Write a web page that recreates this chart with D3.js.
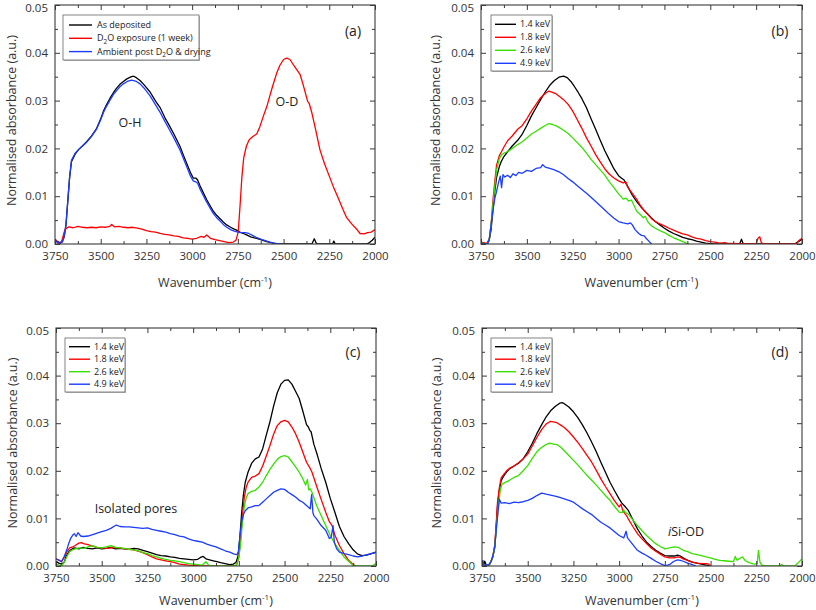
<!DOCTYPE html>
<html><head><meta charset="utf-8">
<script src="https://cdn.jsdelivr.net/npm/d3@7"></script>
<style>
body{margin:0;background:#fff;}
svg{display:block;font-family:"Open Sans","Noto Sans",sans-serif;}
</style></head>
<body><svg id="chart" width="816" height="610"></svg>
<script>
// ---------- tick labels / axes ----------
const xMajorTicks = [3750,3500,3250,3000,2750,2500,2250,2000];
const xMinorTicks = [3625,3375,3125,2875,2625,2375,2125];
const yMajorTicks = [0,0.01,0.02,0.03,0.04,0.05];
const yMinorTicks = [0.005,0.015,0.025,0.035,0.045];
const xLabel = "Wavenumber (cm";
const yLabel = "Normalised absorbance (a.u.)";
const energies = ["1.4 keV","1.8 keV","2.6 keV","4.9 keV"];

// ---------- panel (a) ----------
const a_asDeposited = [[3750,0.0010],[3740,0.0006],[3725,0.0003],[3710,0.0005],[3700,0.0015],[3690,0.004],[3680,0.009],[3670,0.014],[3660,0.0172],[3640,0.0188],[3620,0.0198],[3600,0.0205],[3577,0.0214],[3550,0.0226],[3522,0.0242],[3500,0.0262],[3486,0.0277],[3470,0.0290],[3449,0.0305],[3430,0.0317],[3413,0.0326],[3395,0.0334],[3376,0.0340],[3355,0.0346],[3331,0.0350],[3320,0.0351],[3305,0.0348],[3285,0.0342],[3265,0.0334],[3250,0.0327],[3230,0.0318],[3200,0.0299],[3176,0.0286],[3150,0.0265],[3121,0.0245],[3100,0.0230],[3066,0.0204],[3050,0.0188],[3030,0.0169],[3010,0.0150],[2994,0.0138],[2980,0.0138],[2970,0.0134],[2957,0.0122],[2940,0.0108],[2921,0.0093],[2900,0.0079],[2885,0.0069],[2866,0.0060],[2850,0.0054],[2830,0.0046],[2811,0.0040],[2790,0.0035],[2770,0.0031],[2757,0.0029],[2740,0.0025],[2720,0.0022],[2702,0.0019],[2680,0.0015],[2660,0.0013],[2647,0.0012],[2625,0.0009],[2610,0.0007],[2592,0.0005],[2570,0.0003],[2550,0.0001],[2535,0],[2345,0],[2332,0.0011],[2322,0.0002],[2315,0],[2232,0],[2225,0.0006],[2218,0],[2045,0],[2030,0.0003],[2015,0.0008],[2000,0.0014]];
const a_d2oExposure = [[3750,0.0010],[3735,0.0003],[3720,0.0001],[3710,0.0010],[3700,0.0025],[3690,0.0032],[3675,0.0036],[3650,0.0034],[3625,0.0037],[3600,0.0035],[3575,0.0034],[3550,0.0035],[3525,0.0034],[3500,0.0036],[3475,0.0035],[3450,0.0037],[3440,0.0041],[3425,0.0036],[3400,0.0037],[3375,0.0035],[3350,0.0034],[3325,0.0035],[3300,0.0033],[3275,0.0031],[3250,0.0028],[3225,0.0026],[3200,0.0025],[3175,0.0022],[3150,0.0020],[3125,0.0019],[3100,0.0017],[3075,0.0016],[3050,0.0013],[3025,0.0012],[3000,0.0010],[2975,0.0012],[2950,0.0016],[2935,0.0014],[2920,0.0019],[2900,0.0012],[2875,0.0009],[2850,0.0007],[2825,0.0005],[2800,0.0003],[2775,0.0004],[2760,0.0008],[2748,0.0025],[2738,0.0080],[2728,0.0140],[2718,0.0180],[2703,0.0205],[2688,0.0218],[2668,0.0225],[2647,0.0230],[2630,0.0245],[2610,0.0268],[2592,0.0287],[2575,0.0310],[2560,0.0330],[2538,0.0357],[2520,0.0374],[2500,0.0386],[2483,0.0389],[2465,0.0386],[2445,0.0374],[2425,0.0363],[2410,0.0355],[2395,0.0336],[2380,0.0315],[2368,0.0298],[2360,0.0294],[2354,0.0286],[2345,0.0274],[2325,0.0240],[2301,0.0197],[2275,0.0167],[2250,0.0142],[2228,0.0120],[2200,0.0095],[2175,0.0072],[2155,0.0055],[2125,0.0041],[2100,0.0031],[2082,0.0022],[2060,0.0021],[2040,0.0024],[2020,0.0025],[2000,0.0030]];
const a_ambientDried = [[3750,0.0008],[3740,0.0004],[3725,0.0001],[3710,0.0004],[3700,0.0015],[3690,0.004],[3680,0.009],[3670,0.014],[3660,0.0175],[3640,0.0190],[3620,0.0198],[3600,0.0205],[3577,0.0213],[3550,0.0225],[3522,0.0241],[3500,0.0260],[3486,0.0274],[3470,0.0287],[3449,0.0301],[3430,0.0313],[3413,0.0321],[3395,0.0329],[3376,0.0335],[3355,0.0340],[3331,0.0343],[3320,0.0342],[3305,0.0340],[3285,0.0335],[3265,0.0327],[3250,0.0320],[3230,0.0310],[3200,0.0291],[3176,0.0276],[3150,0.0257],[3121,0.0237],[3100,0.0222],[3066,0.0196],[3050,0.0181],[3030,0.0162],[3010,0.0143],[2994,0.0132],[2980,0.0130],[2970,0.0127],[2957,0.0115],[2940,0.0102],[2921,0.0088],[2900,0.0074],[2885,0.0064],[2866,0.0055],[2850,0.0049],[2830,0.0041],[2811,0.0035],[2790,0.0030],[2770,0.0027],[2750,0.0025],[2730,0.0024],[2710,0.0024],[2690,0.0022],[2670,0.0018],[2650,0.0014],[2625,0.0010],[2600,0.0007],[2575,0.0004],[2550,0.0002],[2525,0]];

// ---------- panel (b) ----------
const b_14keV = [[3750,0.0003],[3730,0.0001],[3715,0],[3705,0.0008],[3695,0.003],[3685,0.007],[3675,0.011],[3665,0.014],[3650,0.0162],[3640,0.0172],[3625,0.0183],[3605,0.0193],[3580,0.0205],[3550,0.0217],[3525,0.0230],[3500,0.0248],[3475,0.0268],[3450,0.0285],[3425,0.0302],[3400,0.0318],[3375,0.0332],[3350,0.0342],[3325,0.0349],[3300,0.0351],[3280,0.0348],[3260,0.0340],[3240,0.0329],[3220,0.0317],[3200,0.0304],[3175,0.0285],[3150,0.0262],[3125,0.0240],[3100,0.0217],[3075,0.0195],[3050,0.0176],[3025,0.0157],[3000,0.0143],[2985,0.0138],[2970,0.0134],[2950,0.0120],[2925,0.0102],[2900,0.0088],[2875,0.0076],[2850,0.0066],[2825,0.0056],[2800,0.0047],[2775,0.0040],[2750,0.0033],[2725,0.0027],[2700,0.0022],[2675,0.0018],[2650,0.0014],[2625,0.0011],[2600,0.0009],[2575,0.0006],[2550,0.0004],[2525,0.0002],[2500,0.0001],[2475,0],[2340,0],[2330,0.0010],[2320,0],[2040,0],[2020,0.0005],[2000,0.0010]];
const b_18keV = [[3750,0.0004],[3735,0.0003],[3720,0.0001],[3705,0.001],[3695,0.004],[3685,0.009],[3675,0.013],[3665,0.0165],[3650,0.0185],[3640,0.0192],[3625,0.0203],[3605,0.0216],[3580,0.0226],[3550,0.0240],[3525,0.0248],[3500,0.0262],[3475,0.0278],[3450,0.0292],[3425,0.0306],[3400,0.0315],[3380,0.0320],[3360,0.0317],[3340,0.0314],[3320,0.0308],[3300,0.0302],[3275,0.0292],[3250,0.0278],[3225,0.0260],[3200,0.0242],[3175,0.0222],[3150,0.0205],[3125,0.0187],[3100,0.0172],[3075,0.0157],[3050,0.0146],[3025,0.0138],[3000,0.0132],[2975,0.0128],[2960,0.0130],[2950,0.0119],[2925,0.0106],[2900,0.0093],[2880,0.0080],[2860,0.0070],[2840,0.0062],[2820,0.0053],[2800,0.0047],[2775,0.0042],[2750,0.0038],[2725,0.0033],[2700,0.0029],[2675,0.0025],[2650,0.0021],[2625,0.0019],[2600,0.0015],[2575,0.0012],[2550,0.0010],[2525,0.0007],[2500,0.0005],[2475,0.0004],[2450,0.0002],[2420,0.0003],[2400,0.0001],[2250,0],[2240,0.0012],[2230,0.0015],[2222,0.0003],[2210,0],[2030,0],[2015,0.0008],[2000,0.0012]];
const b_26keV = [[3750,0.0003],[3730,0.0001],[3715,0],[3705,0.001],[3695,0.004],[3685,0.008],[3675,0.012],[3665,0.0155],[3650,0.0178],[3640,0.0186],[3625,0.0190],[3605,0.0193],[3580,0.0200],[3550,0.0208],[3525,0.0214],[3500,0.0222],[3475,0.0230],[3450,0.0236],[3425,0.0242],[3400,0.0248],[3380,0.0252],[3360,0.0250],[3340,0.0247],[3320,0.0243],[3300,0.0238],[3275,0.0231],[3250,0.0222],[3225,0.0212],[3200,0.0202],[3175,0.0190],[3150,0.0177],[3125,0.0166],[3100,0.0155],[3075,0.0144],[3050,0.0130],[3025,0.0118],[3000,0.0105],[2975,0.0094],[2960,0.0096],[2945,0.0090],[2930,0.0092],[2915,0.0080],[2900,0.0068],[2880,0.0061],[2865,0.0055],[2855,0.0058],[2840,0.0046],[2820,0.0038],[2800,0.0033],[2775,0.0028],[2750,0.0024],[2725,0.0018],[2700,0.0013],[2675,0.0009],[2650,0.0005],[2630,0.0002],[2615,0]];
const b_49keV = [[3750,0.0002],[3730,0],[3715,0],[3705,0.001],[3695,0.004],[3685,0.007],[3675,0.0095],[3665,0.011],[3655,0.0128],[3645,0.0142],[3638,0.0118],[3630,0.0145],[3620,0.0140],[3605,0.0144],[3590,0.0139],[3575,0.0147],[3560,0.0143],[3545,0.0150],[3525,0.0148],[3500,0.0154],[3475,0.0152],[3450,0.0158],[3425,0.0160],[3414,0.0166],[3400,0.0161],[3375,0.0158],[3350,0.0155],[3325,0.0151],[3300,0.0145],[3275,0.0137],[3250,0.0130],[3225,0.0122],[3200,0.0114],[3175,0.0106],[3150,0.0098],[3125,0.0089],[3100,0.0080],[3075,0.0071],[3050,0.0062],[3025,0.0054],[3000,0.0047],[2975,0.0044],[2950,0.0042],[2935,0.0044],[2925,0.0040],[2910,0.0030],[2890,0.0022],[2875,0.0018],[2860,0.0017],[2850,0.0012],[2835,0.0006],[2820,0]];

// ---------- panel (c) ----------
const c_14keV = [[3750,0.0010],[3735,0.0006],[3720,0.0004],[3705,0.0008],[3695,0.0020],[3680,0.0030],[3665,0.0035],[3650,0.0038],[3625,0.0036],[3600,0.0039],[3575,0.0037],[3550,0.0036],[3525,0.0038],[3500,0.0036],[3475,0.0037],[3450,0.0039],[3425,0.0036],[3400,0.0037],[3375,0.0036],[3350,0.0035],[3325,0.0037],[3300,0.0036],[3275,0.0033],[3250,0.0030],[3225,0.0027],[3200,0.0024],[3175,0.0022],[3150,0.0021],[3125,0.0019],[3100,0.0018],[3075,0.0016],[3050,0.0015],[3025,0.0014],[3000,0.0013],[2975,0.0014],[2960,0.0018],[2945,0.0020],[2930,0.0015],[2910,0.0013],[2890,0.0011],[2870,0.0009],[2850,0.0007],[2825,0.0005],[2800,0.0003],[2780,0.0004],[2765,0.0008],[2755,0.0020],[2745,0.0057],[2735,0.0110],[2725,0.0150],[2715,0.0176],[2700,0.0197],[2680,0.0216],[2660,0.0225],[2640,0.0229],[2620,0.0246],[2600,0.0275],[2580,0.0303],[2560,0.0336],[2540,0.0364],[2520,0.0382],[2500,0.0390],[2480,0.0391],[2460,0.0382],[2440,0.0367],[2420,0.0352],[2400,0.0325],[2380,0.0297],[2370,0.0292],[2362,0.0285],[2355,0.0282],[2345,0.0265],[2340,0.0256],[2320,0.0232],[2300,0.0205],[2275,0.0176],[2250,0.0142],[2225,0.0113],[2200,0.0083],[2175,0.0062],[2150,0.0047],[2125,0.0034],[2100,0.0025],[2075,0.0022],[2050,0.0023],[2025,0.0026],[2000,0.0029]];
const c_18keV = [[3750,0.0015],[3735,0.0013],[3720,0.0009],[3705,0.0018],[3690,0.0030],[3675,0.0038],[3660,0.0040],[3645,0.0043],[3625,0.0048],[3610,0.0049],[3600,0.0047],[3575,0.0045],[3550,0.0042],[3525,0.0039],[3500,0.0038],[3475,0.0037],[3450,0.0038],[3425,0.0039],[3400,0.0038],[3375,0.0036],[3350,0.0035],[3325,0.0034],[3300,0.0031],[3275,0.0028],[3250,0.0024],[3225,0.0019],[3200,0.0015],[3175,0.0013],[3150,0.0011],[3125,0.0009],[3100,0.0007],[3075,0.0004],[3050,0.0003],[3025,0.0002],[3000,0.0001],[2975,0.0001],[2950,0],[2770,0],[2760,0.0004],[2750,0.0020],[2742,0.0050],[2732,0.0100],[2720,0.0145],[2710,0.0165],[2700,0.0176],[2680,0.0186],[2660,0.0189],[2640,0.0194],[2620,0.0210],[2600,0.0231],[2580,0.0253],[2560,0.0277],[2540,0.0295],[2520,0.0303],[2500,0.0306],[2480,0.0303],[2460,0.0292],[2440,0.0278],[2420,0.0260],[2400,0.0239],[2380,0.0218],[2360,0.0205],[2350,0.0197],[2325,0.0168],[2300,0.0140],[2275,0.0113],[2255,0.0093],[2240,0.0085],[2225,0.0065],[2200,0.0043],[2175,0.0026],[2150,0.0012],[2125,0.0003],[2110,0]];
const c_26keV = [[3750,0.0005],[3735,0.0002],[3720,0],[3705,0.0008],[3690,0.0020],[3675,0.0030],[3660,0.0034],[3645,0.0036],[3625,0.0038],[3600,0.0037],[3575,0.0040],[3550,0.0043],[3525,0.0039],[3500,0.0038],[3475,0.0040],[3450,0.0043],[3425,0.0039],[3400,0.0038],[3375,0.0037],[3350,0.0035],[3325,0.0034],[3300,0.0032],[3275,0.0028],[3250,0.0026],[3225,0.0022],[3200,0.0019],[3175,0.0016],[3150,0.0014],[3125,0.0012],[3100,0.0011],[3075,0.0009],[3050,0.0007],[3025,0.0005],[3000,0.0004],[2975,0.0003],[2950,0.0002],[2930,0.0009],[2915,0.0002],[2900,0],[2765,0],[2752,0.0015],[2742,0.0040],[2732,0.0085],[2720,0.0125],[2710,0.0143],[2700,0.0152],[2680,0.0157],[2660,0.0159],[2640,0.0166],[2620,0.0176],[2600,0.0190],[2580,0.0203],[2560,0.0214],[2540,0.0224],[2520,0.0230],[2500,0.0232],[2480,0.0229],[2460,0.0219],[2440,0.0208],[2420,0.0197],[2400,0.0183],[2385,0.0170],[2375,0.0182],[2368,0.0160],[2360,0.0162],[2350,0.0155],[2325,0.0127],[2300,0.0106],[2275,0.0085],[2250,0.0064],[2225,0.0047],[2200,0.0033],[2175,0.0019],[2150,0.0010],[2125,0.0001],[2100,0],[2020,0],[2010,0.0003],[2000,0.0005]];
const c_49keV = [[3750,0.0015],[3735,0.0012],[3720,0.0009],[3705,0.0020],[3690,0.0035],[3680,0.0048],[3670,0.0058],[3660,0.0064],[3650,0.0068],[3640,0.0062],[3630,0.0070],[3615,0.0063],[3600,0.0062],[3575,0.0063],[3550,0.0066],[3525,0.0069],[3500,0.0072],[3475,0.0075],[3450,0.0079],[3430,0.0084],[3420,0.0086],[3400,0.0083],[3375,0.0082],[3350,0.0082],[3325,0.0081],[3300,0.0080],[3275,0.0079],[3250,0.0080],[3225,0.0077],[3200,0.0075],[3175,0.0073],[3150,0.0071],[3125,0.0068],[3100,0.0066],[3075,0.0063],[3050,0.0061],[3025,0.0057],[3000,0.0054],[2975,0.0052],[2950,0.0050],[2925,0.0046],[2900,0.0043],[2875,0.0040],[2850,0.0036],[2825,0.0032],[2800,0.0029],[2775,0.0025],[2760,0.0024],[2752,0.0030],[2745,0.0060],[2735,0.0092],[2725,0.0108],[2715,0.0116],[2700,0.0122],[2680,0.0124],[2660,0.0127],[2640,0.0127],[2620,0.0134],[2600,0.0141],[2580,0.0148],[2560,0.0155],[2540,0.0159],[2520,0.0162],[2500,0.0161],[2480,0.0155],[2460,0.0150],[2440,0.0145],[2420,0.0138],[2400,0.0134],[2380,0.0127],[2360,0.0120],[2352,0.0150],[2345,0.0112],[2340,0.0106],[2325,0.0099],[2300,0.0085],[2275,0.0075],[2255,0.0058],[2245,0.0060],[2235,0.0085],[2228,0.0050],[2215,0.0036],[2200,0.0029],[2175,0.0026],[2150,0.0024],[2125,0.0021],[2100,0.0019],[2075,0.0021],[2050,0.0024],[2025,0.0026],[2000,0.0029]];

// ---------- panel (d) ----------
const d_14keV = [[3750,0.0012],[3742,0.0002],[3735,0.0010],[3725,0],[3710,0.0002],[3700,0.0010],[3690,0.0020],[3680,0.0040],[3672,0.0085],[3665,0.0127],[3655,0.0160],[3645,0.0180],[3630,0.0190],[3615,0.0198],[3600,0.0204],[3575,0.0210],[3550,0.0216],[3525,0.0225],[3500,0.0240],[3475,0.0258],[3450,0.0278],[3425,0.0296],[3400,0.0313],[3375,0.0326],[3350,0.0335],[3325,0.0342],[3310,0.0343],[3300,0.0341],[3275,0.0334],[3250,0.0324],[3225,0.0311],[3200,0.0296],[3175,0.0279],[3150,0.0260],[3125,0.0240],[3100,0.0218],[3075,0.0197],[3050,0.0176],[3025,0.0158],[3000,0.0141],[2985,0.0132],[2970,0.0126],[2950,0.0117],[2925,0.0097],[2900,0.0078],[2875,0.0063],[2850,0.0050],[2825,0.0041],[2800,0.0033],[2775,0.0027],[2750,0.0022],[2725,0.0021],[2700,0.0021],[2680,0.0023],[2665,0.0021],[2650,0.0017],[2625,0.0012],[2600,0.0008],[2575,0.0006],[2550,0.0004],[2525,0.0002],[2500,0]];
const d_18keV = [[3750,0.0008],[3740,0.0002],[3725,0],[3710,0.0003],[3700,0.0010],[3690,0.0022],[3680,0.0045],[3672,0.0090],[3665,0.0135],[3655,0.0165],[3645,0.0185],[3630,0.0193],[3615,0.0200],[3600,0.0205],[3575,0.0210],[3550,0.0217],[3525,0.0225],[3500,0.0235],[3475,0.0252],[3450,0.0270],[3425,0.0286],[3400,0.0298],[3375,0.0304],[3360,0.0303],[3340,0.0301],[3320,0.0296],[3300,0.0291],[3275,0.0282],[3250,0.0271],[3225,0.0259],[3200,0.0246],[3175,0.0232],[3150,0.0218],[3125,0.0201],[3100,0.0183],[3075,0.0167],[3050,0.0152],[3025,0.0137],[3000,0.0124],[2990,0.0130],[2980,0.0116],[2960,0.0106],[2950,0.0099],[2925,0.0083],[2900,0.0068],[2875,0.0057],[2850,0.0047],[2825,0.0038],[2800,0.0031],[2775,0.0025],[2750,0.0019],[2725,0.0017],[2700,0.0017],[2680,0.0019],[2665,0.0018],[2650,0.0015],[2625,0.0012],[2600,0.0008],[2575,0.0006],[2550,0.0005],[2525,0.0005],[2510,0.0004],[2500,0]];
const d_26keV = [[3750,0.0005],[3740,0.0002],[3725,0],[3710,0.0003],[3700,0.0010],[3690,0.0022],[3680,0.0042],[3670,0.0085],[3662,0.0120],[3650,0.0160],[3640,0.0172],[3625,0.0175],[3600,0.0180],[3575,0.0186],[3550,0.0190],[3525,0.0200],[3500,0.0211],[3475,0.0226],[3450,0.0240],[3425,0.0249],[3400,0.0255],[3380,0.0258],[3360,0.0256],[3340,0.0255],[3320,0.0250],[3300,0.0242],[3275,0.0232],[3250,0.0222],[3225,0.0212],[3200,0.0201],[3175,0.0190],[3150,0.0180],[3125,0.0170],[3100,0.0159],[3075,0.0148],[3050,0.0138],[3025,0.0125],[3000,0.0113],[2985,0.0112],[2975,0.0118],[2965,0.0112],[2950,0.0109],[2925,0.0097],[2900,0.0085],[2875,0.0074],[2850,0.0064],[2825,0.0055],[2800,0.0047],[2775,0.0041],[2750,0.0036],[2725,0.0038],[2700,0.0040],[2675,0.0039],[2650,0.0033],[2625,0.0030],[2600,0.0026],[2575,0.0024],[2550,0.0022],[2525,0.0019],[2500,0.0017],[2475,0.0014],[2450,0.0012],[2425,0.0011],[2400,0.0010],[2375,0.0009],[2365,0.0020],[2355,0.0012],[2340,0.0016],[2325,0.0019],[2310,0.0011],[2290,0.0007],[2260,0.0004],[2245,0.0005],[2238,0.0033],[2230,0.0008],[2220,0.0002],[2200,0],[2120,0],[2110,0.0003],[2100,0],[2040,0],[2020,0.0007],[2000,0.0015]];
const d_49keV = [[3750,0.0002],[3745,0.0012],[3738,0],[3725,0.0002],[3710,0.0004],[3700,0.0010],[3690,0.0022],[3680,0.0040],[3670,0.0085],[3662,0.0115],[3655,0.0140],[3645,0.0132],[3625,0.0133],[3600,0.0131],[3575,0.0134],[3550,0.0133],[3525,0.0135],[3500,0.0138],[3475,0.0142],[3450,0.0148],[3425,0.0153],[3410,0.0152],[3400,0.0151],[3375,0.0149],[3350,0.0147],[3325,0.0144],[3300,0.0141],[3275,0.0138],[3250,0.0134],[3225,0.0127],[3200,0.0120],[3175,0.0114],[3150,0.0108],[3125,0.0100],[3100,0.0092],[3075,0.0086],[3050,0.0080],[3025,0.0072],[3000,0.0064],[2975,0.0059],[2962,0.0073],[2955,0.0060],[2950,0.0057],[2925,0.0045],[2900,0.0033],[2875,0.0027],[2850,0.0022],[2825,0.0016],[2800,0.0010],[2775,0.0005],[2750,0.0001],[2735,0.0002],[2720,0.0004],[2700,0.0010],[2680,0.0013],[2665,0.0012],[2650,0.0010],[2625,0.0006],[2600,0.0003],[2580,0]];

// ---------- styling / layout ----------
const colors = {black:"#000000", red:"#ff0000", green:"#38e000", blue:"#1c3cff"};

const panels = [
  {tag:"(a)", box:[55,5,375,244], tagPos:[353,36], xlOff:43,
   series:[{name:"As deposited",data:a_asDeposited,c:colors.black},
           {name:"D2O exposure (1 week)",data:a_d2oExposure,c:colors.red},
           {name:"Ambient post D2O & drying",data:a_ambientDried,c:colors.blue}],
   legend:{box:[63,15,136,45], y0:25, dy:13.3, lx:[69,92], tx:97},
   notes:[{t:"O-H",x:130,y:127},{t:"O-D",x:287,y:106}], ylx:12},
  {tag:"(b)", box:[481,5,802,244], tagPos:[780,36], xlOff:43,
   series:[{name:energies[0],data:b_14keV,c:colors.black},{name:energies[1],data:b_18keV,c:colors.red},
           {name:energies[2],data:b_26keV,c:colors.green},{name:energies[3],data:b_49keV,c:colors.blue}],
   legend:{box:[491,15,61,56], y0:24.3, dy:13, lx:[495,516], tx:520}, notes:[], ylx:436},
  {tag:"(c)", box:[56,328,376,566], tagPos:[353,357], xlOff:39,
   series:[{name:energies[0],data:c_14keV,c:colors.black},{name:energies[1],data:c_18keV,c:colors.red},
           {name:energies[2],data:c_26keV,c:colors.green},{name:energies[3],data:c_49keV,c:colors.blue}],
   legend:{box:[65,338,60,54], y0:346.7, dy:12.5, lx:[69,90], tx:94},
   notes:[{t:"Isolated pores",x:136,y:513}], ylx:13},
  {tag:"(d)", box:[482,328,802,566], tagPos:[780,357], xlOff:39,
   series:[{name:energies[0],data:d_14keV,c:colors.black},{name:energies[1],data:d_18keV,c:colors.red},
           {name:energies[2],data:d_26keV,c:colors.green},{name:energies[3],data:d_49keV,c:colors.blue}],
   legend:{box:[491,338,61,54], y0:346.7, dy:12.5, lx:[495,516], tx:520},
   notes:[{t:"iSi-OD",x:686,y:536,italicFirst:true}], ylx:437}
];

const svg = d3.select("#chart");
const axisColor = "#3a3a3a";
const textColor = "#333";

function fmtY(v){ return v===0 ? "0.00" : d3.format(".2f")(v); }

panels.forEach(p => {
  const [x0,y0,x1,y1] = p.box;
  const x = d3.scaleLinear().domain([3750,2000]).range([x0,x1]);
  const y = d3.scaleLinear().domain([0,0.05]).range([y1,y0]);
  const g = svg.append("g");

  const clipId = "clip" + p.tag.replace(/\W/g,"");
  svg.append("clipPath").attr("id",clipId).append("rect")
     .attr("x",x0).attr("y",y0-1).attr("width",x1-x0).attr("height",y1-y0+1);
  const line = d3.line().x(d=>x(d[0])).y(d=>y(d[1]));
  const lg = g.append("g").attr("clip-path",`url(#${clipId})`);
  p.series.forEach(s => {
    lg.append("path").datum(s.data).attr("d",line)
      .attr("fill","none").attr("stroke",s.c).attr("stroke-width",1.3)
      .attr("stroke-linejoin","round");
  });

  const fontTick = "11.5px";
  g.append("g").attr("transform",`translate(0,${y1})`)
    .call(d3.axisBottom(x).tickValues(xMajorTicks).tickSize(-5).tickPadding(8).tickFormat(d3.format("d")));
  g.append("g").attr("transform",`translate(0,${y1})`)
    .call(d3.axisBottom(x).tickValues(xMinorTicks).tickSize(-3).tickFormat(""));
  g.append("g").attr("transform",`translate(0,${y0})`)
    .call(d3.axisTop(x).tickValues(xMajorTicks).tickSize(-5).tickFormat(""));
  g.append("g").attr("transform",`translate(0,${y0})`)
    .call(d3.axisTop(x).tickValues(xMinorTicks).tickSize(-3).tickFormat(""));
  const left = g.append("g").attr("transform",`translate(${x0},0)`)
    .call(d3.axisLeft(y).tickValues(yMajorTicks).tickSize(-5).tickPadding(7).tickFormat(fmtY));
  g.append("g").attr("transform",`translate(${x0},0)`)
    .call(d3.axisLeft(y).tickValues(yMinorTicks).tickSize(-3).tickFormat(""));
  g.append("g").attr("transform",`translate(${x1},0)`)
    .call(d3.axisRight(y).tickValues(yMajorTicks).tickSize(-5).tickFormat(""));
  g.append("g").attr("transform",`translate(${x1},0)`)
    .call(d3.axisRight(y).tickValues(yMinorTicks).tickSize(-3).tickFormat(""));
  g.selectAll(".domain").remove();
  g.selectAll(".tick line").attr("stroke",axisColor).attr("stroke-width",1);
  g.selectAll(".tick text").attr("fill",textColor).style("font-size",fontTick)
    .style("font-family",'"Open Sans","Noto Sans",sans-serif');
  // keep the top label (0.05) fully inside the page
  left.selectAll(".tick text").filter(d => d === 0.05).attr("dy","0.55em");

  g.append("rect").attr("x",x0).attr("y",y0).attr("width",x1-x0).attr("height",y1-y0)
    .attr("fill","none").attr("stroke",axisColor).attr("stroke-width",1.1);

  const xt = g.append("text").attr("x",(x0+x1)/2).attr("y",y1+p.xlOff)
    .attr("text-anchor","middle").attr("fill",textColor).style("font-size","12.5px");
  xt.append("tspan").text(xLabel);
  xt.append("tspan").text("-1").attr("dy","-5").style("font-size","8px");
  xt.append("tspan").text(")").attr("dy","5");
  g.append("text").attr("transform",`translate(${p.ylx},${(y0+y1)/2-4}) rotate(-90)`)
    .attr("text-anchor","middle").attr("dy","0.35em").attr("fill",textColor)
    .style("font-size","12.5px").text(yLabel);

  g.append("text").attr("x",p.tagPos[0]).attr("y",p.tagPos[1]).attr("text-anchor","middle")
    .attr("fill","#222").style("font-size","14px").text(p.tag);

  p.notes.forEach(n => {
    const t = g.append("text").attr("x",n.x).attr("y",n.y).attr("text-anchor","middle")
      .attr("fill","#222").style("font-size","12.5px");
    if (n.italicFirst) {
      t.append("tspan").text(n.t[0]).style("font-style","italic");
      t.append("tspan").text(n.t.slice(1));
    } else t.text(n.t);
  });

  const L = p.legend;
  g.append("rect").attr("x",L.box[0]+1).attr("y",L.box[1]+1).attr("width",L.box[2]).attr("height",L.box[3])
    .attr("fill","#bbb");
  g.append("rect").attr("x",L.box[0]).attr("y",L.box[1]).attr("width",L.box[2]).attr("height",L.box[3])
    .attr("fill","#fff").attr("stroke","#666").attr("stroke-width",0.8);
  p.series.forEach((s,i) => {
    const yy = L.y0 + i*L.dy;
    g.append("line").attr("x1",L.lx[0]).attr("x2",L.lx[1]).attr("y1",yy).attr("y2",yy)
      .attr("stroke",s.c).attr("stroke-width",1.4);
    const t = g.append("text").attr("x",L.tx).attr("y",yy).attr("dy","0.35em")
      .attr("fill","#222").style("font-size","9px");
    const m = s.name.match(/^(.*?)D2O(.*)$/);
    if (m) {
      t.append("tspan").text(m[1] + "D");
      t.append("tspan").text("2").attr("dy","2.5").style("font-size","6.5px");
      t.append("tspan").text("O" + m[2]).attr("dy","-2.5");
    } else t.text(s.name);
  });
});
</script></body></html>
